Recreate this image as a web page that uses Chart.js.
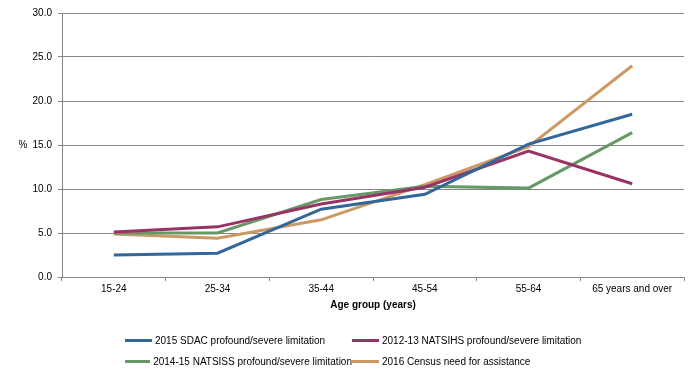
<!DOCTYPE html>
<html>
<head>
<meta charset="utf-8">
<script src="https://cdn.jsdelivr.net/npm/chart.js@4/dist/chart.umd.min.js"></script>
<style>
  body { margin: 0; background: #fff; }
  #wrap { position: relative; width: 699px; height: 378px; }
  #legend {
    position: absolute; left: 125px; top: 333px;
    display: grid; grid-template-columns: 227px 230px; row-gap: 6px;
    font-family: "Liberation Sans", Arial, sans-serif; font-size: 10px; color: #000;
  }
  .item { display: flex; align-items: center; height: 15px; white-space: nowrap; }
  .swatch { width: 27px; height: 3px; margin-right: 3px; }
</style>
</head>
<body>
<div id="wrap">
  <canvas id="myChart"></canvas>
  <div id="legend"></div>
</div>
<script>
// age groups and series (%)
var ageGroups = ["15-24", "25-34", "35-44", "45-54", "55-64", "65 years and over"];
var sdac2015 = [2.5, 2.7, 7.7, 9.4, 15.1, 18.5];
var natsihs2012 = [5.1, 5.7, 8.3, 10.2, 14.3, 10.6];
var natsiss2014 = [5.0, 5.0, 8.8, 10.3, 10.1, 16.4];
var census2016 = [4.9, 4.4, 6.5, 10.5, 14.8, 24.0];
var yTicks = [0, 5, 10, 15, 20, 25, 30];

var fontName = "Liberation Sans";

// draws the horizontal "%" label left of the y axis
var percentLabel = {
  id: "percentLabel",
  afterDraw: function (chart) {
    var ctx = chart.ctx;
    var y = chart.scales.y.getPixelForValue(15);
    ctx.save();
    ctx.font = "10px " + fontName;
    ctx.fillStyle = "#000";
    ctx.textAlign = "center";
    ctx.textBaseline = "middle";
    ctx.fillText("%", 23, y);
    ctx.restore();
  }
};

function ds(label, data, color) {
  return {
    label: label,
    data: data,
    borderColor: color,
    backgroundColor: color,
    borderWidth: 3,
    pointRadius: 0,
    tension: 0,
    fill: false
  };
}

var chart = new Chart("myChart", {
  type: "line",
  data: {
    labels: ageGroups,
    datasets: [
      ds("2015 SDAC profound/severe limitation", sdac2015, "#336699"),
      ds("2012-13 NATSIHS profound/severe limitation", natsihs2012, "#993366"),
      ds("2014-15 NATSISS profound/severe limitation", natsiss2014, "#669966"),
      ds("2016 Census need for assistance", census2016, "#CC9966")
    ]
  },
  plugins: [percentLabel],
  options: {
    responsive: true,
    maintainAspectRatio: false,
    animation: false,
    layout: { padding: { top: 13, right: 15, bottom: 67, left: 0 } },
    plugins: {
      legend: { display: false },
      tooltip: { enabled: false }
    },
    scales: {
      x: {
        offset: true,
        grid: {
          offset: true,
          drawOnChartArea: false,
          drawTicks: true,
          tickLength: 4,
          color: "#868686"
        },
        border: { color: "#868686", width: 1 },
        ticks: {
          color: "#000",
          font: { family: fontName, size: 10 },
          padding: 2,
          maxRotation: 0
        },
        title: {
          display: true,
          text: "Age group (years)",
          color: "#000",
          font: { family: fontName, size: 10, weight: "bold" },
          padding: { top: 2, bottom: 0 }
        }
      },
      y: {
        min: 0,
        max: 30,
        afterBuildTicks: function (scale) {
          scale.ticks = yTicks.map(function (v) { return { value: v }; });
        },
        afterFit: function (scale) { scale.width = 62; },
        grid: {
          color: "#868686",
          tickLength: 4,
          lineWidth: 1
        },
        border: { color: "#868686", width: 1 },
        ticks: {
          color: "#000",
          font: { family: fontName, size: 10 },
          padding: 6,
          callback: function (v) { return v.toFixed(1); }
        }
      }
    }
  }
});

// legend in two aligned columns, built from the chart datasets
var legendEl = document.getElementById("legend");
chart.data.datasets.forEach(function (d) {
  var item = document.createElement("div");
  item.className = "item";
  var sw = document.createElement("span");
  sw.className = "swatch";
  sw.style.background = d.borderColor;
  var txt = document.createElement("span");
  txt.textContent = d.label;
  item.appendChild(sw);
  item.appendChild(txt);
  legendEl.appendChild(item);
});
</script>
</body>
</html>
